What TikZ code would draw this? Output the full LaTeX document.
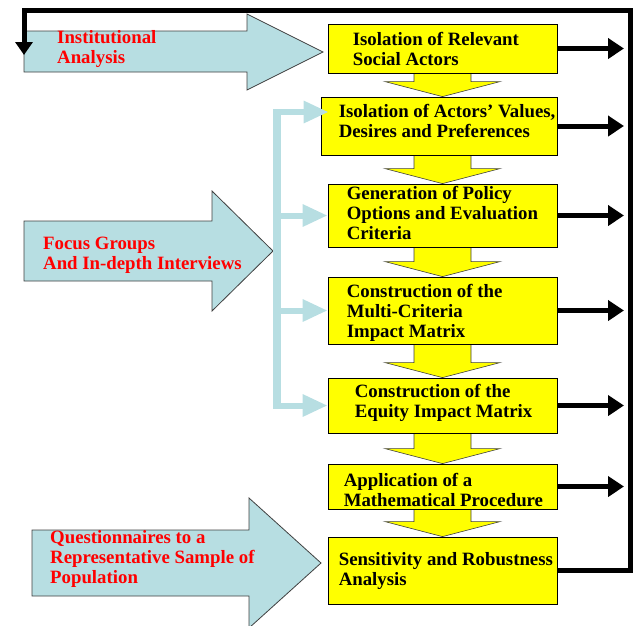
\documentclass[tikz,border=0pt]{standalone}
\usepackage{fontspec}
\setmainfont{Liberation Serif}
\usepackage{tikz}
\usetikzlibrary{arrows.meta,backgrounds,calc,positioning}
\definecolor{stageyellow}{RGB}{255,255,0}
\definecolor{inputblue}{RGB}{183,222,226}
\definecolor{inputred}{RGB}{255,0,0}
\definecolor{edgegrey}{RGB}{64,64,64}

\begin{document}
\begin{tikzpicture}[x=1pt,y=-1pt,
  stage/.style={draw=black,line width=0.8pt,fill=stageyellow,inner sep=0pt},
  stagetext/.style={inner sep=0pt,align=left,font=\rmfamily\bfseries\fontsize{18.8}{20}\selectfont},
  inputtext/.style={stagetext,text=inputred},
  inputarrow/.style={draw=edgegrey,line width=0.8pt,fill=inputblue},
  flowarrow/.style={draw=edgegrey,line width=0.6pt,fill=stageyellow},
  outarrow/.style={line width=5pt,-{Triangle[length=16pt,width=20pt]}},
  feedback/.style={line width=5pt,-{Triangle[length=13pt,width=17pt]}},
  feedbar/.style={line width=8pt,draw=inputblue},
  feedbranch/.style={line width=6pt,draw=inputblue,-{Triangle[length=25pt,width=21pt]}}]
\useasboundingbox (0,0) rectangle (634,625);
\clip (0,0) rectangle (634,625);

\draw[inputarrow] (24,31) -- (247,31) -- (247,14) -- (323,52) -- (247,90) -- (247,72) -- (24,72) -- cycle;
\draw[inputarrow] (24,221) -- (212,221) -- (212,191) -- (273,251) -- (212,311) -- (212,281) -- (24,281) -- cycle;
\draw[inputarrow] (32,530) -- (249,530) -- (249,498) -- (321,563) -- (249,628) -- (249,596) -- (32,596) -- cycle;

\node[inputtext,anchor=west] (inst) at (57,49) {Institutional\\Analysis};
\node[inputtext,anchor=west] (focus) at (43,255.5) {Focus Groups\\And In-depth Interviews};
\node[inputtext,anchor=west] (quest) at (50,559) {Questionnaires to a\\Representative Sample of\\Population};

\node[stage,minimum width=229pt,minimum height=49pt] (s1) at (442.5,48.5) {};
\node[stage,minimum width=236pt,minimum height=58pt] (s2) at (439,126) {};
\node[stage,minimum width=229pt,minimum height=63pt] (s3) at (442.5,215.5) {};
\node[stage,minimum width=229pt,minimum height=67pt] (s4) at (442.5,310.5) {};
\node[stage,minimum width=229pt,minimum height=55pt] (s5) at (442.5,405.5) {};
\node[stage,minimum width=229pt,minimum height=45pt] (s6) at (442.5,486.5) {};
\node[stage,minimum width=229pt,minimum height=67pt] (s7) at (442.5,570.5) {};

\node[stagetext,right=25pt of s1.west] (t1) {Isolation of Relevant\\Social Actors};
\node[stagetext,right=18pt of s2.west,yshift=5pt] (t2) {Isolation of Actors' Values,\\Desires and Preferences};
\node[stagetext,right=19pt of s3.west,yshift=2.5pt] (t3) {Generation of Policy\\Options and Evaluation\\Criteria};
\node[stagetext,right=19pt of s4.west,yshift=-2.5pt] (t4) {Construction of the\\Multi-Criteria\\Impact Matrix};
\node[stagetext,right=27pt of s5.west,yshift=2.5pt] (t5) {Construction of the\\Equity Impact Matrix};
\node[stagetext,right=16pt of s6.west,yshift=-3.5pt] (t6) {Application of a\\Mathematical Procedure};
\node[stagetext,right=11pt of s7.west] (t7) {Sensitivity and Robustness\\Analysis};

\begin{scope}[on background layer]
\foreach \a/\b in {s1/s2,s2/s3,s3/s4,s4/s5,s5/s6,s6/s7}
  \draw[flowarrow] ($(\a.south -| s1)+(-28.5,0)$) -- ($(\b.north -| s1)+(-28.5,-15)$) -- ($(\b.north -| s1)+(-57.5,-15)$) -- (\b.north -| s1) -- ($(\b.north -| s1)+(57.5,-15)$) -- ($(\b.north -| s1)+(28.5,-15)$) -- ($(\a.south -| s1)+(28.5,0)$);
\end{scope}

\coordinate (bartop) at (277,109);
\coordinate (in2) at ([yshift=14pt,xshift=8pt]s2.west);
\draw[feedbar] (bartop) -- ($(s5.west -| bartop)+(0,3)$);
\draw[feedbranch] (in2 -| bartop) -- (in2);
\foreach \s in {s3,s4,s5}
  \draw[feedbranch] (\s.west -| bartop) -- (\s.west);

\coordinate (outx) at (624,0);
\foreach \s in {s1,s2,s3,s4,s5,s6}
  \draw[outarrow] (\s.east) -- (\s.east -| outx);

\coordinate (topright) at (630,10.5);
\coordinate (backtip) at (24,55);
\draw[feedback] (s7.east) -| (topright) -| (backtip);
\end{tikzpicture}
\end{document}
